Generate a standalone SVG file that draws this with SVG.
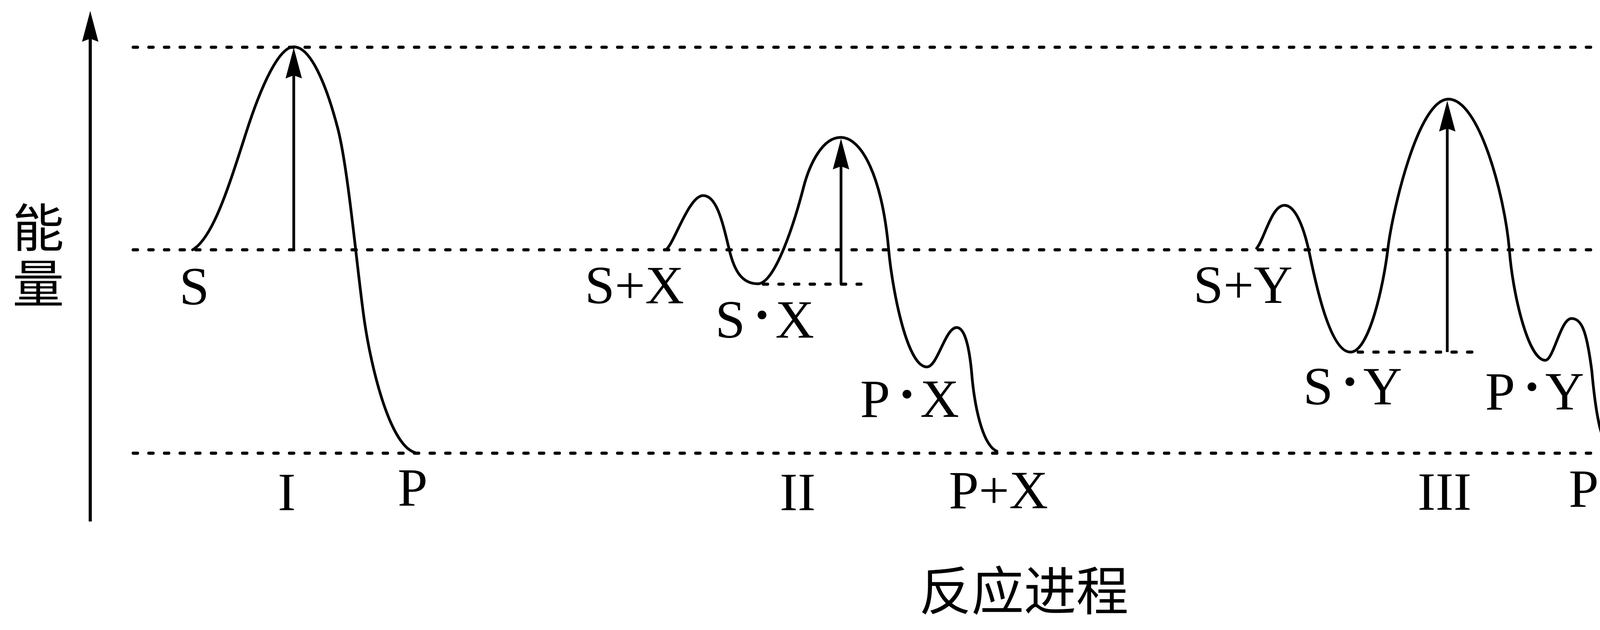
<svg xmlns="http://www.w3.org/2000/svg" width="5688" height="1614" viewBox="0 0 5688 1614">
<style>
.bg{fill:#ffffff}
.curve{fill:none;stroke:#000;stroke-width:7;stroke-linecap:round;stroke-linejoin:round}
.arrow{fill:none;stroke:#000;stroke-width:7}
.axis{fill:none;stroke:#000;stroke-width:8}
.dash{fill:none;stroke:#000;stroke-width:8;stroke-dasharray:11 29;stroke-linecap:round}
.lbl{font-family:"Liberation Serif","Times New Roman",serif;font-size:138px;fill:#000}
.mid{text-anchor:middle}
.dot{font-weight:bold}
.cjk{font-family:"Noto Sans CJK SC","Noto Sans CJK JP",sans-serif;font-size:132px;fill:#000}
</style>
<defs>
<marker id="head" markerUnits="userSpaceOnUse" orient="auto" refX="0" refY="0" markerWidth="100" markerHeight="60" overflow="visible">
<path d="M71,0 L-8,-21 L0,0 L-8,21 Z" fill="#000"/>
</marker>
</defs>
<rect class="bg" x="0" y="0" width="5688" height="1614"/>
<g id="axes">
<line class="axis" x1="231" y1="1336" x2="231" y2="99" marker-end="url(#head)"/>
<text class="cjk" x="98" y="516" writing-mode="tb" letter-spacing="11">能量</text>
<text class="cjk" x="2621" y="1563" text-anchor="middle" style="font-size:134px">反应进程</text>
</g>
<g id="guides">
<line class="dash" x1="341" y1="121" x2="5630" y2="121"/>
<line class="dash" x1="341" y1="640" x2="5630" y2="640"/>
<line class="dash" x1="341" y1="1161" x2="5630" y2="1161"/>
</g>
<g id="profile-I">
<path class="curve" d="M493,640 C545,610 585,480 630,340 C670,215 715,120 752,120 C795,120 835,215 865,330 C892,435 915,700 933,823 C950,940 1000,1155 1070,1161"/>
<text class="lbl" x="459" y="780">S</text>
<text class="lbl mid" x="734" y="1307">I</text>
<text class="lbl" x="1018" y="1295">P</text>
</g>
<g id="profile-II">
<path class="curve" d="M1703,640 C1722,636 1762,501 1800,501 C1835,501 1850,570 1867,640 C1880,695 1900,727 1940,727 C1985,727 2035,565 2057,480 C2072,422 2105,352 2152,352 C2205,352 2258,450 2275,640 C2283,730 2320,940 2373,940 C2400,940 2420,839 2449,839 C2468,839 2480,880 2487,950 C2494,1040 2515,1140 2552,1156"/>
<line class="dash" x1="1954" y1="728" x2="2204" y2="728"/>
<text class="lbl" x="1497" y="777">S+X</text>
<text class="lbl" x="1831" y="865">S<tspan class="dot" dx="20" dy="-13">·</tspan><tspan dx="11" dy="13">X</tspan></text>
<text class="lbl" x="2202" y="1068">P<tspan class="dot" dx="20" dy="-13">·</tspan><tspan dx="11" dy="13">X</tspan></text>
<text class="lbl mid" x="2042" y="1307">II</text>
<text class="lbl" x="2429" y="1302">P+X</text>
</g>
<g id="profile-III">
<path class="curve" d="M3217,636 C3236,615 3255,526 3288,526 C3318,526 3340,590 3353,653 C3368,725 3405,902 3457,902 C3505,902 3542,730 3553,637 C3564,545 3630,254 3708,254 C3786,254 3852,500 3864,640 C3872,750 3912,923 3956,923 C3977,923 3995,816 4023,816 C4050,816 4062,850 4075,950 C4085,1060 4100,1158 4137,1161"/>
<line class="dash" x1="3477" y1="902" x2="3771" y2="902"/>
<text class="lbl" x="3055" y="776">S+Y</text>
<text class="lbl" x="3336" y="1036">S<tspan class="dot" dx="20" dy="-13">·</tspan><tspan dx="11" dy="13">Y</tspan></text>
<text class="lbl" x="3802" y="1049">P<tspan class="dot" dx="20" dy="-13">·</tspan><tspan dx="11" dy="13">Y</tspan></text>
<text class="lbl mid" x="3698" y="1306">III</text>
<text class="lbl" x="4016" y="1298">P+Y</text>
</g>
<g id="profile-IV">
<path class="curve" d="M4772,637 C4790,575 4810,480 4848,480 C4875,480 4898,540 4910,630 C4918,700 4940,772 4997,772 C5040,772 5075,650 5087,580 C5100,505 5130,347 5190,347 C5248,347 5303,520 5327,641 C5350,750 5405,1020 5432,1162 C5455,1250 5510,1310 5563,1320"/>
<line class="dash" x1="5011" y1="773" x2="5261" y2="773"/>
<text class="lbl" x="4636" y="763">S+Z</text>
<text class="lbl" x="4892" y="898">S<tspan class="dot" dx="20" dy="-13">·</tspan><tspan dx="11" dy="13">Z</tspan></text>
<text class="lbl mid" x="5101" y="1307">IV</text>
<text class="lbl" x="5428" y="1455">P<tspan class="dot" dx="20" dy="-13">·</tspan><tspan dx="11" dy="13">Z</tspan></text>
</g>
<g id="connectors">
<line class="arrow" x1="752" y1="640" x2="752" y2="193" marker-end="url(#head)"/>
<line class="arrow" x1="2153" y1="728" x2="2153" y2="426" marker-end="url(#head)"/>
<line class="arrow" x1="3705" y1="902" x2="3705" y2="329" marker-end="url(#head)"/>
<line class="arrow" x1="5192" y1="773" x2="5192" y2="421" marker-end="url(#head)"/>
</g>
</svg>
